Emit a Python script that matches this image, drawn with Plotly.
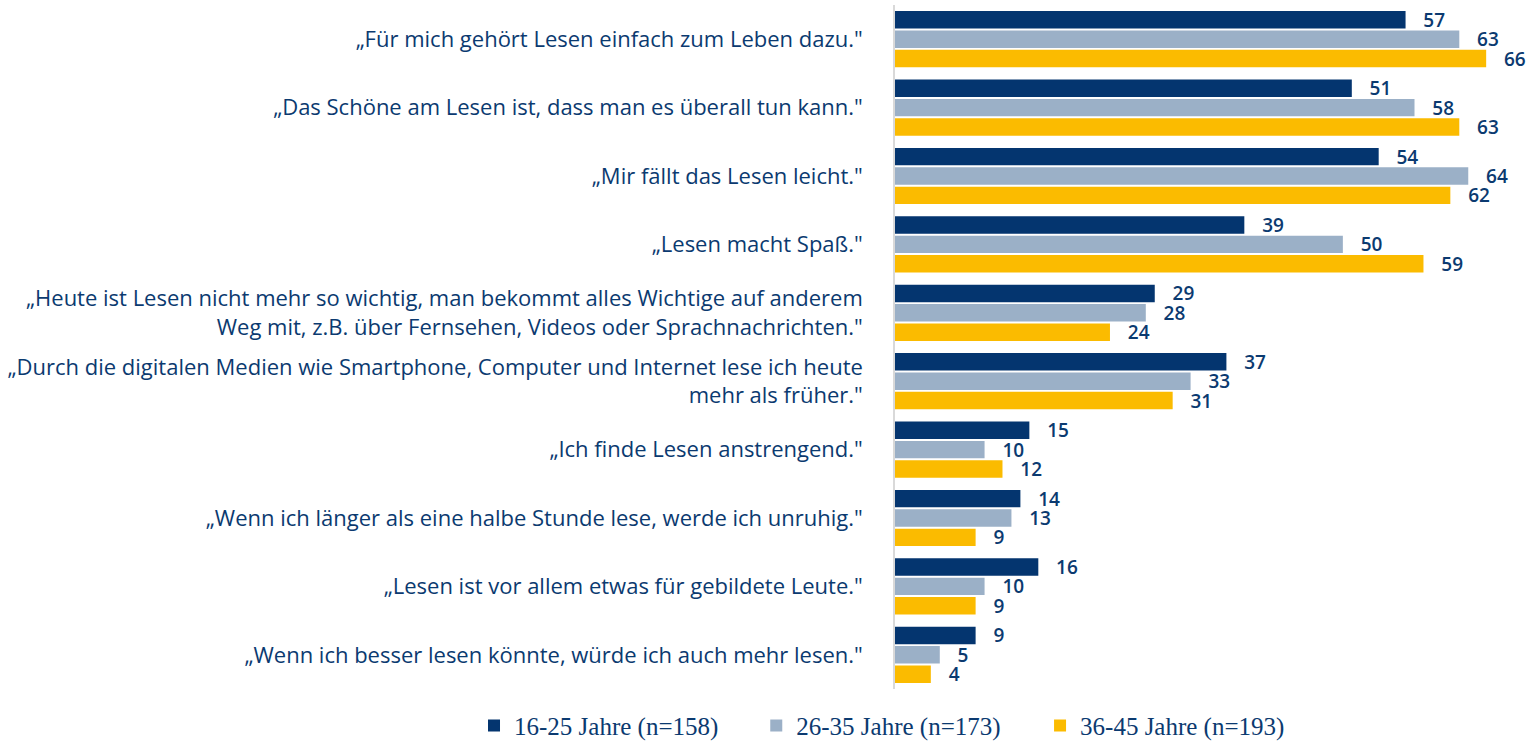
import plotly.graph_objects as go

categories = [
    "„Für mich gehört Lesen einfach zum Leben dazu.\"",
    "„Das Schöne am Lesen ist, dass man es überall tun kann.\"",
    "„Mir fällt das Lesen leicht.\"",
    "„Lesen macht Spaß.\"",
    "„Heute ist Lesen nicht mehr so wichtig, man bekommt alles Wichtige auf anderem<br>Weg mit, z.B. über Fernsehen, Videos oder Sprachnachrichten.\"",
    "„Durch die digitalen Medien wie Smartphone, Computer und Internet lese ich heute<br>mehr als früher.\"",
    "„Ich finde Lesen anstrengend.\"",
    "„Wenn ich länger als eine halbe Stunde lese, werde ich unruhig.\"",
    "„Lesen ist vor allem etwas für gebildete Leute.\"",
    "„Wenn ich besser lesen könnte, würde ich auch mehr lesen.\"",
]

series_names = ["16-25 Jahre (n=158)", "26-35 Jahre (n=173)", "36-45 Jahre (n=193)"]
values_16_25 = [57, 51, 54, 39, 29, 37, 15, 14, 16, 9]
values_26_35 = [63, 58, 64, 50, 28, 33, 10, 13, 10, 5]
values_36_45 = [66, 63, 62, 59, 24, 31, 12, 9, 9, 4]
colors = ["#04356f", "#9bb0c7", "#fbbb00"]
legend_ids = ["legend", "legend2", "legend3"]
legend_x = [0.309, 0.493, 0.678]

text_color = "#0b3a70"
fig = go.Figure()
for name, vals, col, lid in zip(series_names, [values_16_25, values_26_35, values_36_45], colors, legend_ids):
    fig.add_trace(go.Bar(
        y=categories, x=vals, name=name, orientation="h",
        marker=dict(color=col, line=dict(width=0)),
        text=["\u00a0\u00a0\u00a0" + str(v) for v in vals],
        textposition="outside", cliponaxis=False, constraintext="none",
        textfont=dict(family="Open Sans", size=19, color=text_color, weight=600),
        hoverinfo="x+name", legend=lid, showlegend=True,
    ))

legend_common = dict(orientation="h", xref="container", xanchor="left",
                     yref="container", y=0.026, yanchor="middle",
                     bgcolor="rgba(0,0,0,0)",
                     font=dict(family="Liberation Serif", size=25, color=text_color),
                     itemwidth=30)

fig.update_layout(
    width=1534, height=745, showlegend=True,
    barmode="group", bargap=0.15, bargroupgap=0.1,
    paper_bgcolor="white", plot_bgcolor="white",
    margin=dict(l=895, r=12, t=5, b=56, autoexpand=False),
    font=dict(family="Open Sans", color=text_color),
    xaxis=dict(range=[0, 70], visible=False, showgrid=False, zeroline=False),
    yaxis=dict(autorange="reversed", showline=True, linecolor="#d9d9d9", linewidth=1.5,
               ticks="", ticklabelstandoff=26, automargin=False,
               tickfont=dict(family="Open Sans", size=22, color=text_color)),
    legend=dict(legend_common, x=legend_x[0]),
    legend2=dict(legend_common, x=legend_x[1]),
    legend3=dict(legend_common, x=legend_x[2]),
)

fig.write_html("out.html", config={"displayModeBar": False},
               post_script="document.body.style.margin='0';")
